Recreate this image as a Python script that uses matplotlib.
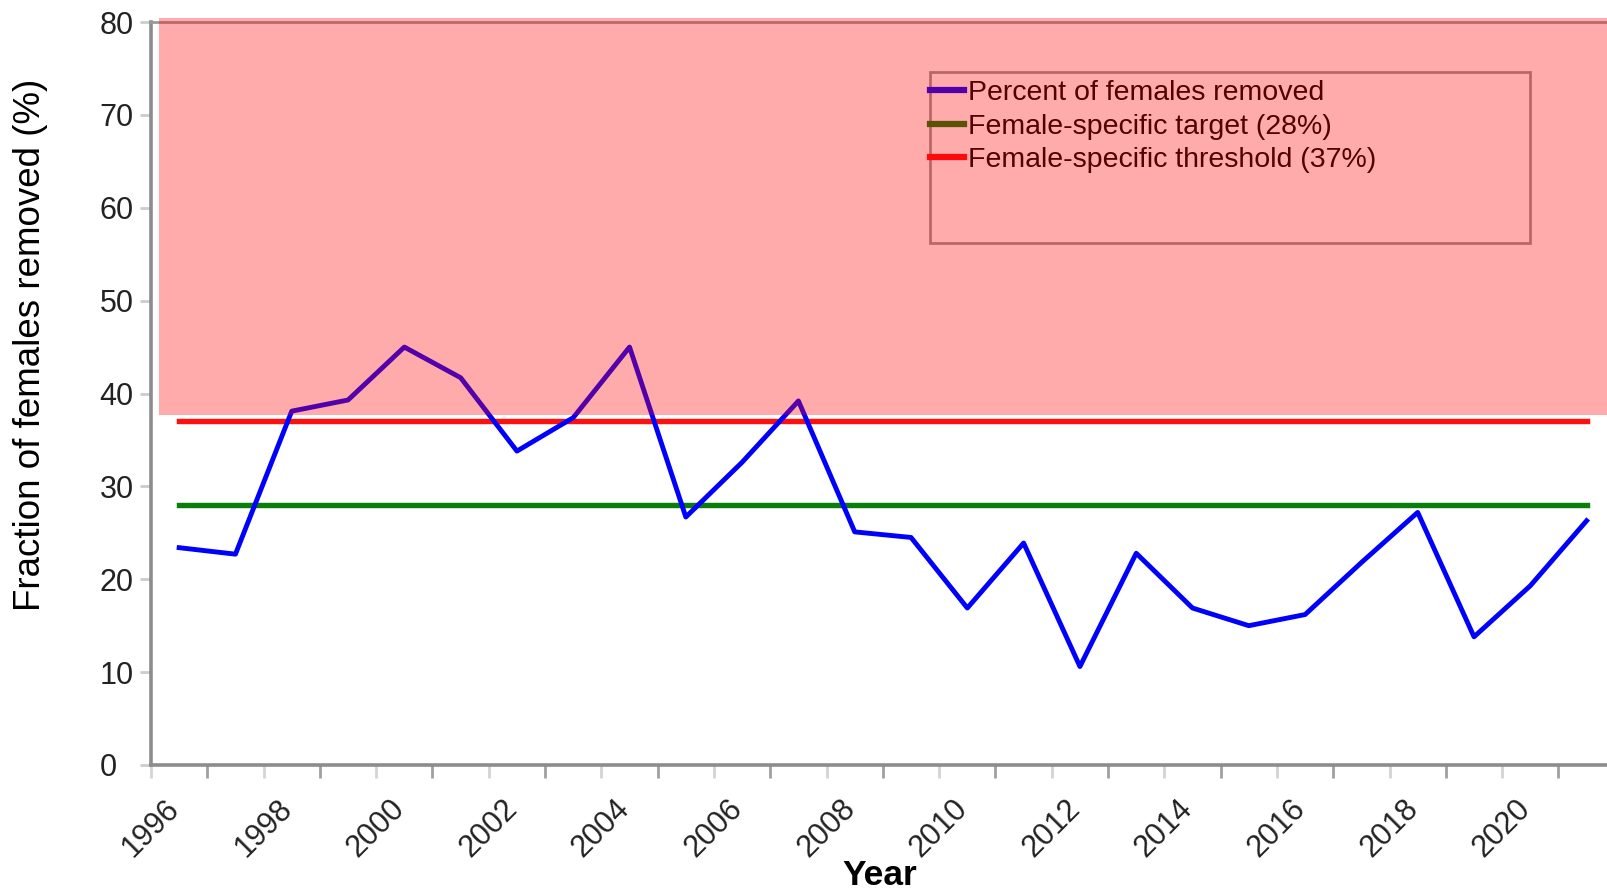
import matplotlib
matplotlib.use("Agg")
import matplotlib.pyplot as plt
import matplotlib.patches as mpatches
import numpy as np

plt.rcParams['font.family'] = ['Liberation Sans', 'DejaVu Sans']

# ---- data ----
years = list(range(1996, 2022))
percent_removed = [23.4, 22.7, 38.1, 39.3, 45.0, 41.7, 33.8, 37.4, 45.0, 26.7,
                   32.6, 39.2, 25.1, 24.5, 16.9, 23.9, 10.6, 22.8, 16.9, 15.0,
                   16.2, 21.8, 27.2, 13.8, 19.3, 26.3]
target = 28
threshold = 37
danger_zone = (37.7, 80.4)   # shaded region above threshold
major_years = list(range(1996, 2021, 2))
minor_years = list(range(1997, 2022, 2))
tick_labels = [str(y) for y in major_years]

W, H = 1608, 891
fig = plt.figure(figsize=(W / 100, H / 100), dpi=100)
left, right, bottom, top = 151, 1608, 765, 22
ax = fig.add_axes([left / W, 1 - bottom / H, (right - left) / W, (bottom - top) / H])

xs = np.array(years) + 0.5
ax.plot(xs, percent_removed, color='#0000ff', lw=3.5, zorder=4,
        label='Percent of females removed')
ax.plot(xs, [target] * len(xs), color='#0a7d0a', lw=3.9, zorder=3,
        label='Female-specific target (28%)')
ax.plot(xs, [threshold] * len(xs), color='#ff1010', lw=3.9, zorder=3,
        label='Female-specific threshold (37%)')

ax.set_xlim(1996, 2021.88)
ax.set_ylim(0, 80)

ax.set_yticks(range(0, 81, 10))
ax.set_xticks(major_years)
ax.set_xticklabels(tick_labels, rotation=45, ha='center')
ax.set_xticks(minor_years, minor=True)
ax.tick_params(axis='y', length=8, width=2, color='#cccccc', labelsize=22,
               labelcolor='#222222', pad=29)
for lab in ax.get_yticklabels():
    lab.set_horizontalalignment('left')
ax.tick_params(axis='x', which='major', length=9.5, width=2, color='#d4d4d4',
               labelsize=22, labelcolor='#222222', pad=11)
ax.tick_params(axis='x', which='minor', length=9.5, width=2, color='#a0a0a0')

for s in ['left', 'bottom']:
    ax.spines[s].set_color('#8c8c8c')
    ax.spines[s].set_linewidth(2.6)
ax.spines['top'].set_color('#999999')
ax.spines['top'].set_linewidth(2.0)
ax.spines['right'].set_visible(False)

ax.set_xlabel('Year', fontsize=25.5, fontweight='bold', labelpad=-3)
fig.text(31 / W, 1 - 345 / H, 'Fraction of females removed (%)', rotation=90,
         fontsize=26.5, ha='center', va='center', color='black')

# legend frame (drawn separately, larger than content)
frame = mpatches.Rectangle((930 / W, 1 - 243 / H), 600 / W, 171 / H,
                           transform=fig.transFigure, fill=False,
                           edgecolor='#999999', lw=2.0, zorder=6, clip_on=False)
ax.add_patch(frame)
leg = ax.legend(loc='upper left', bbox_to_anchor=(930 / W, 1 - 80 / H),
                bbox_transform=fig.transFigure, frameon=False, fontsize=20.5,
                handlelength=1.2, handletextpad=0.15, borderpad=0,
                borderaxespad=0, labelspacing=0.27)
leg.set_zorder(6)
for line in leg.get_lines():
    line.set_linewidth(4.5)

# translucent danger zone drawn on top
shade = mpatches.Rectangle((1996.14, danger_zone[0]), 30, danger_zone[1] - danger_zone[0],
                           facecolor='#ff0000', alpha=0.33, edgecolor='none',
                           zorder=10, clip_on=False)
ax.add_patch(shade)

fig.savefig('out.png', dpi=100)
